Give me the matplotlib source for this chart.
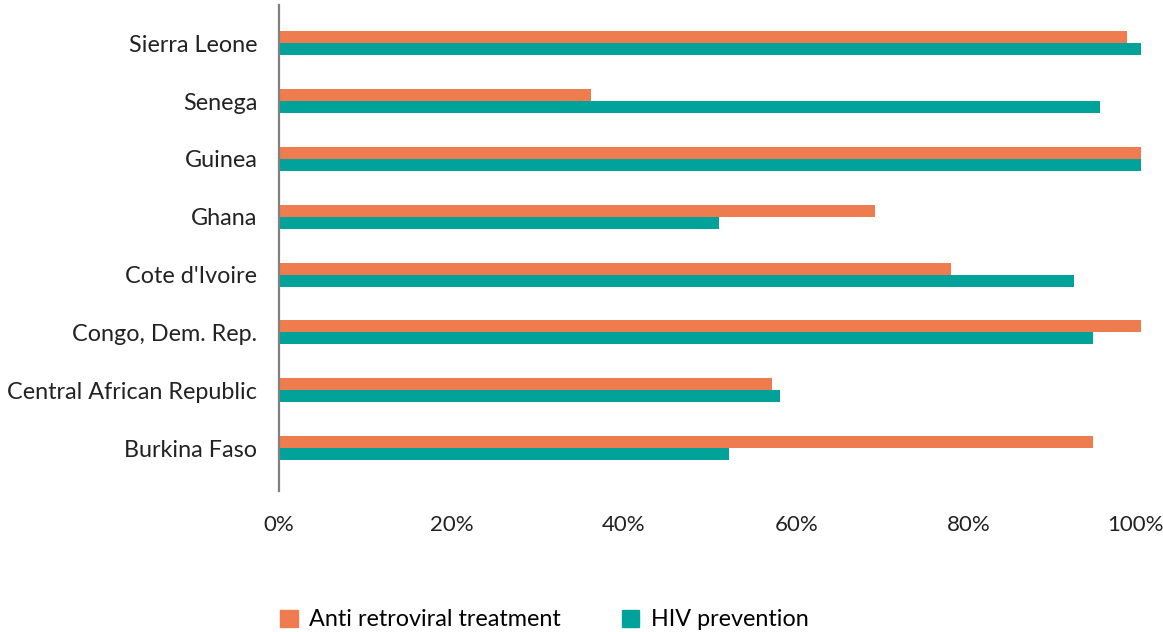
import matplotlib.pyplot as plt
import matplotlib.transforms as mtransforms
import numpy as np
from matplotlib.patches import Patch

# countries, bottom to top
countries = ["Burkina Faso", "Central African Republic", "Congo, Dem. Rep.",
             "Cote d'Ivoire", "Ghana", "Guinea", "Senega", "Sierra Leone"]
art = [0.944, 0.572, 1.00, 0.78, 0.691, 1.00, 0.362, 0.984]
hiv = [0.522, 0.581, 0.944, 0.922, 0.51, 1.00, 0.952, 1.00]
ticks = [0, 0.2, 0.4, 0.6, 0.8, 1.0]
tick_labels = ["0%", "20%", "40%", "60%", "80%", "100%"]

ORANGE = "#EE7C4F"
TEAL = "#00A29A"

plt.rcParams['font.family'] = ['Lato', 'DejaVu Sans']

fig = plt.figure(figsize=(11.63, 6.32), dpi=100)
ax = fig.add_axes([279/1163, 1 - 491/632, (1141 - 279)/1163, (491 - 5)/632])

y = np.arange(len(countries))
h = 0.207
ax.barh(y + h/2, art, height=h, color=ORANGE)
ax.barh(y - h/2, hiv, height=h, color=TEAL)

ax.set_xlim(0, 1.0)
ax.set_ylim(-0.74, len(countries) - 1 + 0.66)
ax.set_yticks(y)
ax.set_yticklabels(countries, fontsize=16.8, color="#222222")
ax.set_xticks(ticks)
ax.set_xticklabels(tick_labels, fontsize=16, color="#222222")
ax.tick_params(length=0)
ax.tick_params(axis="y", pad=15.5)
ax.tick_params(axis="x", pad=17)

# keep the last label inside the figure
last = ax.get_xticklabels()[-1]
last.set_transform(last.get_transform() + mtransforms.ScaledTranslation(-6/100, 0, fig.dpi_scale_trans))

for s in ["top", "right", "bottom"]:
    ax.spines[s].set_visible(False)
ax.spines["left"].set_color("#808080")
ax.spines["left"].set_linewidth(1.6)

handles = [Patch(color=ORANGE, label="Anti retroviral treatment"),
           Patch(color=TEAL, label="HIV prevention")]
fig.legend(handles=handles, loc="center left", bbox_to_anchor=(259/1163, 1 - 620/632),
           ncol=2, frameon=False, fontsize=16.8, handlelength=0.75, handleheight=0.75,
           handletextpad=0.5, columnspacing=2.6)

fig.savefig("out.png", dpi=100)
